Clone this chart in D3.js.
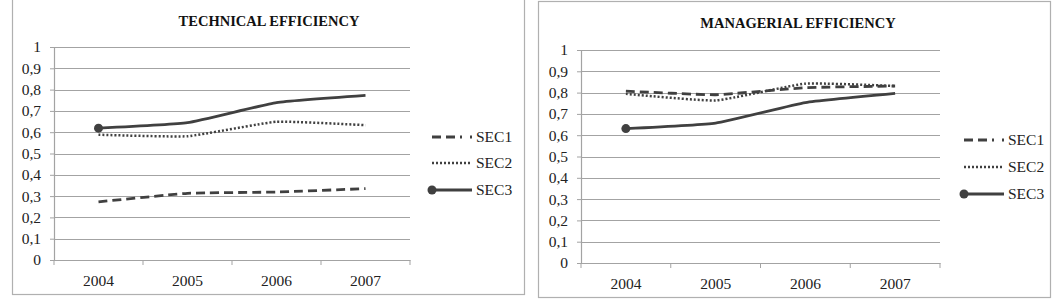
<!DOCTYPE html>
<html>
<head>
<meta charset="utf-8">
<script src="https://cdn.jsdelivr.net/npm/d3@7"></script>
<style>
  body { margin: 0; background: #fff; }
  svg { display: block; }
</style>
</head>
<body>
<script>
// data
var years = ["2004", "2005", "2006", "2007"];
var seriesNames = ["SEC1", "SEC2", "SEC3"];
var yTicks = [0, 0.1, 0.2, 0.3, 0.4, 0.5, 0.6, 0.7, 0.8, 0.9, 1];

var techSec1 = [0.273, 0.313, 0.319, 0.335];
var techSec2 = [0.588, 0.581, 0.649, 0.633];
var techSec3 = [0.619, 0.645, 0.739, 0.773];

var manSec1 = [0.807, 0.790, 0.823, 0.831];
var manSec2 = [0.794, 0.763, 0.842, 0.831];
var manSec3 = [0.631, 0.657, 0.753, 0.796];

var svgWidth = 1056;
var svgHeight = 300;

var svg = d3.select("body")
    .append("svg")
    .attr("width", svgWidth)
    .attr("height", svgHeight);

var lineColor = "#404040";
var gridColor = "#a3a3a3";
var font = "'Liberation Serif', 'DejaVu Serif', serif";

// dash styles per series, index matches seriesNames
var dashes = ["9,5", "2,2", null];

function drawPanel(p) {
  var g = svg.append("g");

  // panel frame
  g.append("rect")
      .attr("x", p.frame[0] + 0.5)
      .attr("y", p.frame[1] + 0.5)
      .attr("width", p.frame[2] - p.frame[0])
      .attr("height", p.frame[3] - p.frame[1])
      .attr("fill", "#fff")
      .attr("stroke", "#b0b0b0")
      .attr("stroke-width", 1.2);

  g.append("text")
      .attr("x", p.titleX)
      .attr("y", p.titleY)
      .attr("text-anchor", "middle")
      .style("font-family", font)
      .style("font-weight", "bold")
      .style("font-size", "14.5px")
      .style("fill", "#111")
      .text(p.title);

  var x = d3.scaleBand()
      .domain(years)
      .range([p.left, p.right]);

  var y = d3.scaleLinear()
      .domain([0, 1])
      .range([p.bottom, p.top]);

  // gridlines
  g.append("g")
      .selectAll("line")
      .data(yTicks.slice(1))
      .enter()
      .append("line")
      .attr("x1", p.left)
      .attr("x2", p.right)
      .attr("y1", function(d) { return Math.round(y(d)) + 0.5; })
      .attr("y2", function(d) { return Math.round(y(d)) + 0.5; })
      .style("stroke", gridColor)
      .style("stroke-width", 1.2);

  // y axis
  var yAxis = g.append("g")
      .attr("transform", "translate(" + p.left + ",0)")
      .call(d3.axisLeft(y)
          .tickValues(yTicks)
          .tickSize(4)
          .tickPadding(9)
          .tickFormat(function(d) { return d3.format("")(d).replace(".", ","); }));

  // x axis, ticks between the categories like excel
  var xAxis = g.append("g")
      .attr("transform", "translate(0," + p.bottom + ")")
      .call(d3.axisBottom(x).tickSize(0).tickPadding(15));

  xAxis.selectAll(".boundary")
      .data(d3.range(years.length + 1))
      .enter()
      .append("line")
      .attr("class", "boundary")
      .attr("x1", function(i) { return p.left + i * x.step(); })
      .attr("x2", function(i) { return p.left + i * x.step(); })
      .attr("y1", 0)
      .attr("y2", 5)
      .style("stroke", gridColor);

  [yAxis, xAxis].forEach(function(a) {
    a.select(".domain").style("stroke", gridColor).style("stroke-width", 1.2);
    a.selectAll(".tick line").style("stroke", gridColor);
    a.selectAll("text")
        .style("font-family", font)
        .style("font-size", "15.5px")
        .style("fill", "#222");
  });

  var line = d3.line()
      .x(function(d, i) { return x(years[i]) + x.bandwidth() / 2; })
      .y(function(d) { return y(d); })
      .curve(d3.curveCardinal.tension(0.6));

  p.series.forEach(function(vals, s) {
    g.append("path")
        .datum(vals)
        .attr("d", line)
        .attr("fill", "none")
        .style("stroke", lineColor)
        .style("stroke-width", s == 1 ? 2.5 : 2.8)
        .style("stroke-dasharray", dashes[s]);
  });

  // only first point of SEC3 carries a marker
  g.append("circle")
      .attr("cx", x(years[0]) + x.bandwidth() / 2)
      .attr("cy", y(p.series[2][0]))
      .attr("r", 4.5)
      .style("fill", lineColor);

  // legend
  var leg = g.append("g")
      .selectAll("g")
      .data(seriesNames)
      .enter()
      .append("g")
      .attr("transform", function(d, i) { return "translate(" + p.legX + "," + p.legY[i] + ")"; });

  leg.append("line")
      .attr("x1", 0)
      .attr("x2", 40)
      .style("stroke", lineColor)
      .style("stroke-width", function(d, i) { return i == 1 ? 2.5 : 2.8; })
      .style("stroke-dasharray", function(d, i) { return i == 0 ? "9,5,9,5,2,8" : dashes[i]; });

  leg.filter(function(d, i) { return i == 2; })
      .append("circle")
      .attr("r", 4.5)
      .style("fill", lineColor);

  leg.append("text")
      .attr("x", 44)
      .attr("dy", "0.35em")
      .style("font-family", font)
      .style("font-size", "15.5px")
      .style("fill", "#222")
      .text(function(d) { return d; });
}

drawPanel({
  title: "TECHNICAL EFFICIENCY",
  frame: [12, -2, 524, 294],
  titleX: 269, titleY: 26,
  left: 54, right: 410, top: 47, bottom: 260,
  series: [techSec1, techSec2, techSec3],
  legX: 432, legY: [137, 163, 190]
});

drawPanel({
  title: "MANAGERIAL EFFICIENCY",
  frame: [538, 1, 1050, 297],
  titleX: 798, titleY: 28,
  left: 581, right: 940, top: 50, bottom: 263,
  series: [manSec1, manSec2, manSec3],
  legX: 964, legY: [140, 167, 194]
});
</script>
</body>
</html>
